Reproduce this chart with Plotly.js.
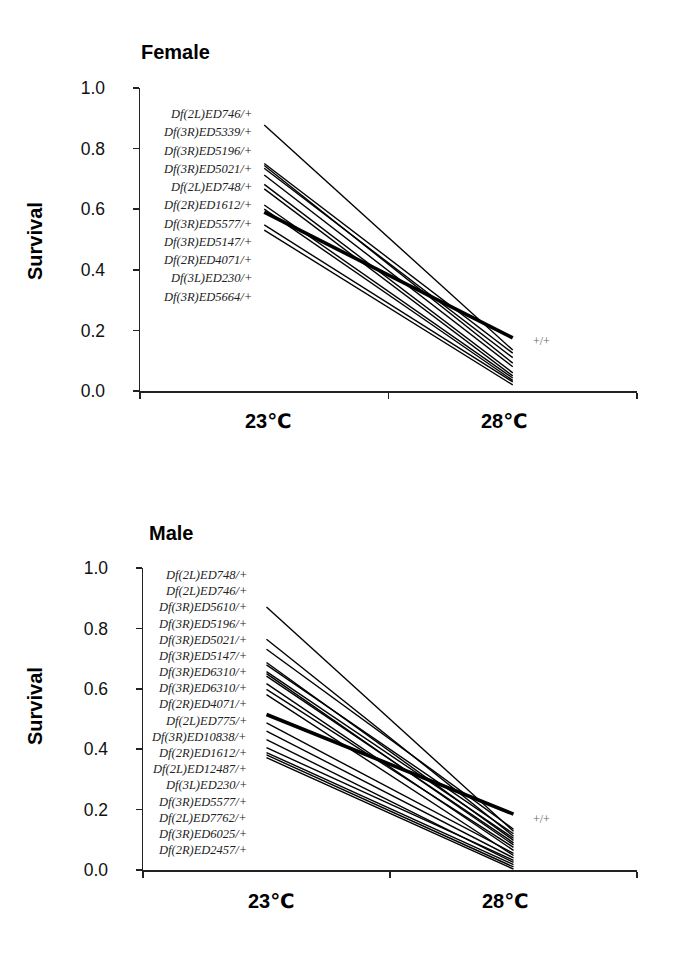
<!DOCTYPE html>
<html>
<head>
<meta charset="utf-8">
<script src="https://cdn.plot.ly/plotly-3.0.1.min.js"></script>
<style>html,body{margin:0;padding:0;background:#fff;}#chart{width:685px;height:969px;}</style>
</head>
<body>
<div id="chart"></div>
<script>
// ---- data ----
var categories = ['23\u2103', '28\u2103'];
var yTicks = [0, 0.2, 0.4, 0.6, 0.8, 1.0];

var femaleLabels = ['Df(2L)ED746/+','Df(3R)ED5339/+','Df(3R)ED5196/+','Df(3R)ED5021/+','Df(2L)ED748/+','Df(2R)ED1612/+','Df(3R)ED5577/+','Df(3R)ED5147/+','Df(2R)ED4071/+','Df(3L)ED230/+','Df(3R)ED5664/+'];
var femaleAt23 = [0.878, 0.751, 0.744, 0.735, 0.713, 0.682, 0.667, 0.614, 0.600, 0.548, 0.531];
var femaleAt28 = [0.135, 0.125, 0.092, 0.110, 0.080, 0.060, 0.050, 0.043, 0.035, 0.030, 0.020];
var femaleWildType = [0.590, 0.175];

var maleLabels = ['Df(2L)ED748/+','Df(2L)ED746/+','Df(3R)ED5610/+','Df(3R)ED5196/+','Df(3R)ED5021/+','Df(3R)ED5147/+','Df(3R)ED6310/+','Df(3R)ED6310/+','Df(2R)ED4071/+','Df(2L)ED775/+','Df(3R)ED10838/+','Df(2R)ED1612/+','Df(2L)ED12487/+','Df(3L)ED230/+','Df(3R)ED5577/+','Df(2L)ED7762/+','Df(3R)ED6025/+','Df(2R)ED2457/+'];
var maleAt23 = [0.871, 0.764, 0.731, 0.687, 0.679, 0.657, 0.650, 0.642, 0.617, 0.598, 0.581, 0.487, 0.460, 0.432, 0.405, 0.389, 0.381, 0.372];
var maleAt28 = [0.128, 0.112, 0.135, 0.098, 0.120, 0.105, 0.083, 0.090, 0.065, 0.075, 0.048, 0.055, 0.040, 0.025, 0.032, 0.018, 0.010, 0.003];
var maleWildType = [0.515, 0.185];

var wildLabel = '+/+';

// ---- layout helpers ----
var W = 685, H = 969;
function px(x) { return x / W; }
function py(y) { return 1 - y / H; }
var xIdx = categories.map(function (c, i) { return i; });

var traces = [];
function addPanel(at23, at28, wild, xa, ya) {
  for (var i = 0; i < at23.length; i++) {
    traces.push({x: xIdx, y: [at23[i], at28[i]], xaxis: xa, yaxis: ya, type: 'scatter', mode: 'lines',
      line: {color: '#000', width: 1.4}, hoverinfo: 'skip', showlegend: false});
  }
  traces.push({x: xIdx, y: wild, xaxis: xa, yaxis: ya, type: 'scatter', mode: 'lines',
    line: {color: '#000', width: 3.6}, hoverinfo: 'skip', showlegend: false});
}
addPanel(femaleAt23, femaleAt28, femaleWildType, 'x', 'y');
addPanel(maleAt23, maleAt28, maleWildType, 'x2', 'y2');

var sans = 'Liberation Sans, Arial, DejaVu Sans, sans-serif';
var serif = 'Liberation Serif, Times New Roman, serif';

function xAxis(d0, d1, anchor) {
  return {domain: [px(d0), px(d1)], anchor: anchor, range: [-0.5, 1.5], tickvals: [-0.5, 0.5, 1.5],
    showticklabels: false, ticks: 'outside', ticklen: 6, tickwidth: 1.5, tickcolor: '#222',
    showline: true, linecolor: '#222', linewidth: 1.5, showgrid: false, zeroline: false, fixedrange: true};
}
function yAxis(top, bottom, anchor) {
  return {domain: [py(bottom), py(top)], anchor: anchor, range: [0, 1], tickvals: yTicks, tickformat: '.1f',
    ticks: 'outside', ticklen: 6, tickwidth: 1.5, tickcolor: '#222', ticklabelstandoff: 24,
    tickfont: {family: sans, size: 17.5, color: '#111'},
    showline: true, linecolor: '#222', linewidth: 1.5, showgrid: false, zeroline: false, fixedrange: true};
}

var annotations = [];
function text(t, x, y, opts) {
  var a = {text: t, x: x, y: y, xref: 'paper', yref: 'paper', showarrow: false,
    xanchor: 'center', yanchor: 'middle'};
  for (var k in opts) a[k] = opts[k];
  annotations.push(a);
}

// titles
text('Female', px(139), py(52), {xanchor: 'left', font: {family: sans, size: 20, color: '#000', weight: 'bold'}});
text('Male', px(147), py(533), {xanchor: 'left', font: {family: sans, size: 20, color: '#000', weight: 'bold'}});
// y titles
text('Survival', px(35), py(241), {textangle: -90, font: {family: sans, size: 20, color: '#000', weight: 'bold'}});
text('Survival', px(35), py(706), {textangle: -90, font: {family: sans, size: 20, color: '#000', weight: 'bold'}});

// category labels (placed at data x of each category)
var catShift = [4, -9];
categories.forEach(function (c, i) {
  annotations.push({text: c, x: i, y: 0, xref: 'x', yref: 'y', yshift: -30, xshift: catShift[i], showarrow: false,
    xanchor: 'center', yanchor: 'middle', font: {family: sans, size: 20, color: '#000', weight: 'bold'}});
  annotations.push({text: c, x: i, y: 0, xref: 'x2', yref: 'y2', yshift: -31, xshift: catShift[i], showarrow: false,
    xanchor: 'center', yanchor: 'middle', font: {family: sans, size: 20, color: '#000', weight: 'bold'}});
});

// strain labels
femaleLabels.forEach(function (l, i) {
  text(l, px(254), py(114 + i * 18.27), {xanchor: 'right', font: {family: serif, size: 12.5, color: '#222', style: 'italic'}});
});
maleLabels.forEach(function (l, i) {
  text(l, px(249), py(575 + i * 16.18), {xanchor: 'right', font: {family: serif, size: 12.5, color: '#222', style: 'italic'}});
});
// wild type label
text(wildLabel, px(541), py(341), {font: {family: serif, size: 12, color: '#666'}});
text(wildLabel, px(541), py(819), {font: {family: serif, size: 12, color: '#666'}});

var layout = {
  width: W, height: H, margin: {l: 0, r: 0, t: 0, b: 0},
  paper_bgcolor: '#fff', plot_bgcolor: '#fff', showlegend: false,
  xaxis: xAxis(140, 637, 'y'),
  yaxis: yAxis(88, 391, 'x'),
  xaxis2: xAxis(143, 637, 'y2'),
  yaxis2: yAxis(568, 870, 'x2'),
  annotations: annotations
};

Plotly.newPlot('chart', traces, layout, {displayModeBar: false, staticPlot: true});
</script>
</body>
</html>
